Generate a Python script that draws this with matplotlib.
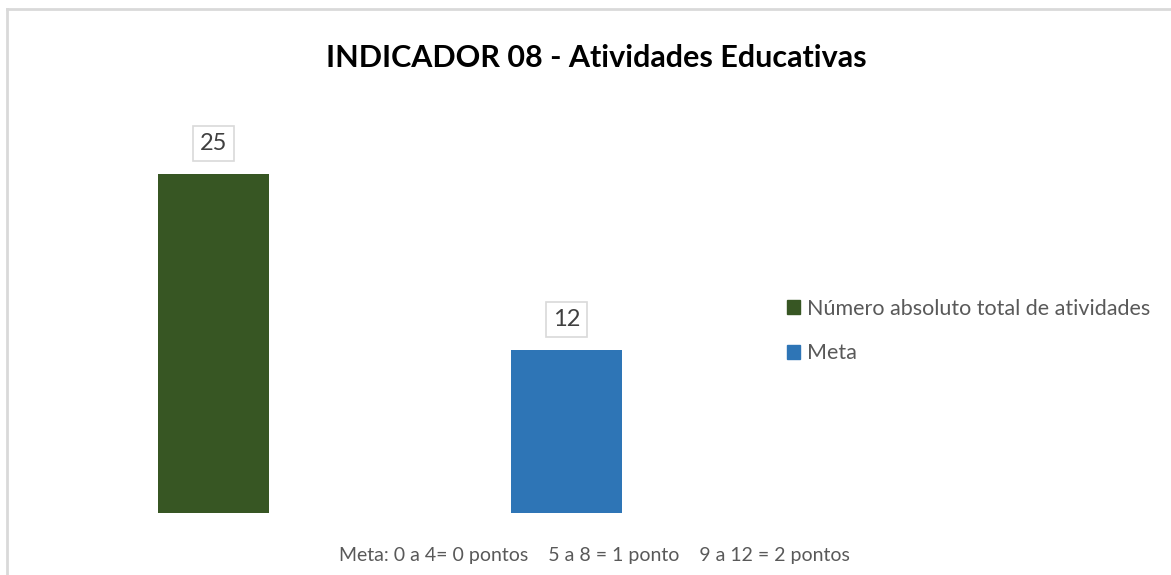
import matplotlib
matplotlib.use('Agg')
import matplotlib.pyplot as plt
from matplotlib.lines import Line2D
from matplotlib.patches import Patch

# data
series = ['Número absoluto total de atividades', 'Meta']
values = [25, 12]
colors = ['#375623', '#2E75B6']
title = 'INDICADOR 08 - Atividades Educativas'
note = 'Meta: 0 a 4= 0 pontos    5 a 8 = 1 ponto    9 a 12 = 2 pontos'

plt.rcParams['font.family'] = ['Lato', 'DejaVu Sans']

W, H = 1171, 575
fig = plt.figure(figsize=(W / 100, H / 100), dpi=100)

# plot area in pixel coords -> figure fraction
left, right = 37, 743
bottom, top = 513, 106.5
ax = fig.add_axes([left / W, 1 - bottom / H, (right - left) / W, (bottom - top) / H])

x = list(range(len(values)))
bars = ax.bar(x, values, width=0.314, color=colors)
ax.set_xlim(-0.5, 1.5)
ax.set_ylim(0, 30)
ax.axis('off')

# value labels in boxes
for xi, v in zip(x, values):
    ax.annotate(str(v), (xi, v), xytext=(0, 22), textcoords='offset points',
                ha='center', va='center', fontsize=17, color='#404040',
                bbox=dict(boxstyle='square,pad=0.3', fc='white', ec='#D9D9D9', lw=1.2))

# legend
handles = [Patch(facecolor=c, edgecolor=c) for c in colors]
fig.legend(handles, series, loc='center left', bbox_to_anchor=(778 / W, 1 - 331 / H),
           frameon=False, fontsize=15.5, labelcolor='#595959', handlelength=0.6,
           handleheight=0.6, handletextpad=0.35, labelspacing=1.15, borderaxespad=0)

fig.text(596 / W, 1 - 58 / H, title, ha='center', va='center', fontsize=22,
         fontweight='bold', color='black')
fig.text(594 / W, 1 - 556 / H, note, ha='center', va='center', fontsize=14, color='#595959')

# chart border (top and left edges visible)
fig.add_artist(Line2D([7 / W, 1], [1 - 9 / H, 1 - 9 / H], color='#D9D9D9', lw=2))
fig.add_artist(Line2D([7 / W, 7 / W], [1 - 9 / H, 0], color='#D9D9D9', lw=2))

fig.savefig('out.png', dpi=100)
